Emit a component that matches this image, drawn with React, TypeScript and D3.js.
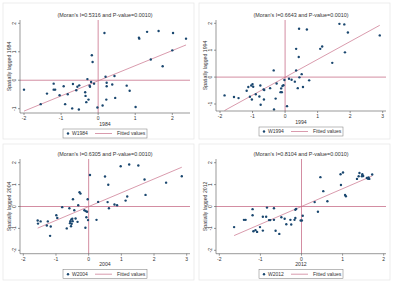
import React from 'react'
import * as d3 from 'd3'

// Moran scatter data: standardized value (x) and spatially lagged value (wy)
const x1984 = [-2.0, -1.55, -1.38, -1.2, -1.2, -1.16, -1.04, -0.93, -0.89, -0.82, -0.7, -0.68, -0.59, -0.56, -0.51, -0.52, -0.35, -0.34, -0.32, -0.29, -0.26, -0.23, -0.22, -0.19, -0.17, -0.15, -0.11, -0.02, 0.12, 0.17, 0.2, 0.22, 0.23, 0.23, 0.38, 0.44, 0.46, 0.77, 0.85, 1.01, 1.1, 1.11, 1.32, 1.42, 1.63, 1.74, 2.0, 2.02, 2.37]
const wy1984 = [-0.33, -0.84, -0.47, -0.12, -0.33, -0.33, -0.53, -0.21, -0.84, -0.49, -0.99, -0.13, -0.35, -0.23, -0.18, -1.03, -0.42, -0.55, -0.77, 0.04, -0.68, -0.19, -0.23, -0.06, 0.88, 0.64, -0.12, -0.96, -0.89, 1.66, 0.12, -0.68, -0.09, -0.21, -0.15, 0.15, -0.62, -0.19, -0.37, -0.94, 1.49, 1.46, 1.7, 0.73, 1.73, 0.49, 1.05, 1.66, 1.46]

const x1994 = [-1.86, -1.57, -1.43, -1.18, -1.13, -1.08, -1.04, -1.0, -0.98, -1.02, -0.9, -0.79, -0.76, -0.75, -0.66, -0.65, -0.64, -0.46, -0.35, -0.34, -0.29, -0.26, -0.14, -0.12, -0.1, -0.08, -0.05, -0.02, 0.06, 0.12, 0.2, 0.3, 0.34, 0.34, 0.39, 0.42, 0.44, 0.43, 0.51, 0.55, 0.67, 0.74, 1.08, 1.14, 1.45, 1.67, 1.82, 1.84, 1.93, 2.91]
const wy1994 = [-0.68, -0.74, -0.78, -0.51, -0.37, -0.73, -0.31, -0.26, -0.36, -0.83, -0.64, -0.72, -0.31, -1.03, -0.46, -0.83, -0.48, -0.41, 0.25, -1.2, -0.8, -0.24, -0.56, -0.42, -0.56, -0.33, -0.3, -0.11, -1.08, -0.06, -0.1, -0.17, 0.25, 1.05, -0.41, 0.75, -0.01, 1.8, 0.11, -0.37, 1.77, -0.12, 1.05, 1.14, 0.53, 1.98, 1.96, 0.92, 1.66, 1.55]

const x2004 = [-1.56, -1.55, -1.47, -1.28, -1.25, -1.18, -1.16, -0.99, -0.96, -0.81, -0.67, -0.59, -0.57, -0.56, -0.54, -0.53, -0.52, -0.5, -0.49, -0.48, -0.44, -0.4, -0.34, -0.32, -0.28, -0.25, -0.13, -0.1, -0.09, -0.07, -0.05, -0.03, -0.02, 0.04, 0.24, 0.29, 0.5, 0.58, 0.6, 0.62, 0.79, 0.87, 0.98, 1.13, 1.18, 1.24, 1.52, 1.71, 1.74, 2.37, 2.85]
const wy2004 = [-0.64, -0.78, -0.68, -0.87, -0.68, -1.34, -0.91, -0.4, -0.52, -0.03, -1.0, -0.08, -0.76, -0.67, -0.9, -0.59, -0.79, -0.56, -0.67, 0.33, -0.17, -0.55, -0.7, 0.06, 0.65, 0.59, -0.17, -0.97, -0.21, -0.49, -0.24, 0.33, -0.62, 1.44, -0.61, 0.21, 1.37, 0.2, 0.99, -0.08, 0.09, 0.06, 1.84, 0.27, 0.46, 1.92, 1.87, 1.23, 0.53, 1.09, 1.38]

const x2012 = [-1.64, -1.4, -1.36, -1.19, -1.19, -1.17, -1.12, -1.08, -1.01, -0.94, -0.94, -0.86, -0.84, -0.79, -0.76, -0.67, -0.67, -0.63, -0.54, -0.49, -0.41, -0.37, -0.27, -0.25, -0.17, -0.15, -0.15, -0.13, -0.02, 0.01, 0.03, 0.32, 0.4, 0.46, 0.53, 0.63, 0.95, 0.96, 1.01, 1.06, 1.08, 1.35, 1.39, 1.41, 1.47, 1.48, 1.5, 1.59, 1.63, 1.65, 1.72, 1.62]
const wy2012 = [-0.94, -0.61, -0.61, -0.12, -0.4, -1.13, -1.08, -1.16, -0.94, -1.1, -0.47, -0.47, -0.05, -0.62, -0.62, -0.08, -0.61, -1.11, -1.25, -0.49, -0.56, -0.81, -0.61, -0.82, -0.61, -0.52, -0.15, -0.11, -0.64, -0.64, -0.42, 0.2, -0.24, 1.34, 0.7, 0.24, 1.47, 0.98, 1.55, 0.53, 0.47, 1.26, 1.38, 1.53, 1.38, 1.47, 1.39, 1.3, 1.33, 1.26, 1.46, 1.27]

const years = ['1984', '1994', '2004', '2012']
const moranI = ['0.5316', '0.6643', '0.6305', '0.8104']
const pValues = ['0.0010', '0.0010', '0.0010', '0.0010']
const xTicks = [[-2, -1, 0, 1, 2], [-2, -1, 0, 1, 2, 3], [-2, -1, 0, 1, 2, 3], [-2, -1, 0, 1, 2]]
const yTicks = [[-1, 0, 1, 2], [-1, 0, 1, 2], [-2, -1, 0, 1, 2], [-2, -1, 0, 1, 2]]
const xs = [x1984, x1994, x2004, x2012]
const wys = [wy1984, wy1994, wy2004, wy2012]

// layout of each panel (pixels inside the panel)
const panels = [
  { ox: 0, oy: 0, xr: [24, 172.3], yr: [108.7, 23.3], top: 20, bottom: 113 },
  { ox: 196, oy: 0, xr: [24, 186.7], yr: [104, 23.3], top: 20, bottom: 111 },
  { ox: 0, oy: 141, xr: [23.3, 186.7], yr: [109.3, 21.7], top: 18, bottom: 112.7 },
  { ox: 196, oy: 141, xr: [23.3, 187.7], yr: [109.3, 21.7], top: 18, bottom: 112.7 }
]

const navy = '#1a476f'
const lineColor = '#c8708a'
const axisColor = '#555'
const textColor = '#333'
const font = 'Liberation Sans, Arial, sans-serif'

function Panel({ i }: { i: number }) {
  const p = panels[i]
  const xt = xTicks[i]
  const yt = yTicks[i]
  const left = 20
  const right = 190
  const mid = (left + right) / 2

  const x = d3.scaleLinear().domain([xt[0], xt[xt.length - 1]]).range(p.xr)
  const y = d3.scaleLinear().domain([yt[0], yt[yt.length - 1]]).range(p.yr)

  const xv = xs[i]
  const yv = wys[i]
  const slope = +moranI[i]
  const intercept = d3.mean(yv)! - slope * d3.mean(xv)!
  const [xmin, xmax] = d3.extent(xv) as [number, number]
  const fit = d3.line<number>().x(d => x(d)).y(d => y(intercept + slope * d))

  const legY = p.bottom + 16

  return (
    <g transform={`translate(${p.ox},${p.oy})`} fontFamily={font}>
      <rect x={3} y={3} width={191} height={136} fill="white" stroke="#e6e6e6" strokeWidth={0.7} />
      <text x={mid} y={p.top - 3} fontSize={5.4} textAnchor="middle" fill={textColor}>
        {`(Moran's I=${moranI[i]} and P-value=${pValues[i]})`}
      </text>

      {/* reference lines */}
      <line x1={left} x2={right} y1={y(0)} y2={y(0)} stroke={lineColor} strokeWidth={0.8} />
      <line x1={x(0)} x2={x(0)} y1={p.top} y2={p.bottom} stroke={lineColor} strokeWidth={0.8} />

      {/* fitted values */}
      <path d={fit([xmin, xmax])!} stroke={lineColor} strokeWidth={0.7} fill="none" />

      {/* points */}
      {xv.map((d, j) => (
        <circle key={j} cx={x(d)} cy={y(yv[j])} r={1.2} fill={navy} />
      ))}

      {/* axes */}
      <line x1={left} x2={left} y1={p.top} y2={p.bottom} stroke={axisColor} strokeWidth={0.6} />
      <line x1={left} x2={right} y1={p.bottom} y2={p.bottom} stroke={axisColor} strokeWidth={0.6} />
      {yt.map(t => (
        <g key={t}>
          <line x1={left - 2} x2={left} y1={y(t)} y2={y(t)} stroke={axisColor} strokeWidth={0.6} />
          <text
            transform={`translate(${left - 4},${y(t)}) rotate(-90)`}
            fontSize={5}
            textAnchor="middle"
            fill={textColor}
          >
            {t}
          </text>
        </g>
      ))}
      {xt.map(t => (
        <g key={t}>
          <line x1={x(t)} x2={x(t)} y1={p.bottom} y2={p.bottom + 2} stroke={axisColor} strokeWidth={0.6} />
          <text x={x(t)} y={p.bottom + 7} fontSize={5} textAnchor="middle" fill={textColor}>
            {t}
          </text>
        </g>
      ))}
      <text x={mid} y={p.bottom + 12.5} fontSize={5.2} textAnchor="middle" fill={textColor}>
        {years[i]}
      </text>
      <text
        transform={`translate(${left - 9},${(p.top + p.bottom) / 2}) rotate(-90)`}
        fontSize={5.2}
        textAnchor="middle"
        fill={textColor}
      >
        {`Spatially lagged ${years[i]}`}
      </text>

      {/* legend */}
      <rect x={63} y={legY} width={84} height={9} fill="white" stroke="#777" strokeWidth={0.5} />
      <circle cx={68} cy={legY + 4.5} r={1.2} fill={navy} />
      <text x={72} y={legY + 6.3} fontSize={5} fill={textColor}>{`W${years[i]}`}</text>
      <line x1={95} x2={112} y1={legY + 4.5} y2={legY + 4.5} stroke={lineColor} strokeWidth={0.7} />
      <text x={117} y={legY + 6.3} fontSize={5} fill={textColor}>Fitted values</text>
    </g>
  )
}

export default function App() {
  return (
    <svg width={393} height={282} style={{ position: 'absolute', left: 0, top: 0, background: 'white' }}>
      {panels.map((_, i) => (
        <Panel key={i} i={i} />
      ))}
    </svg>
  )
}
